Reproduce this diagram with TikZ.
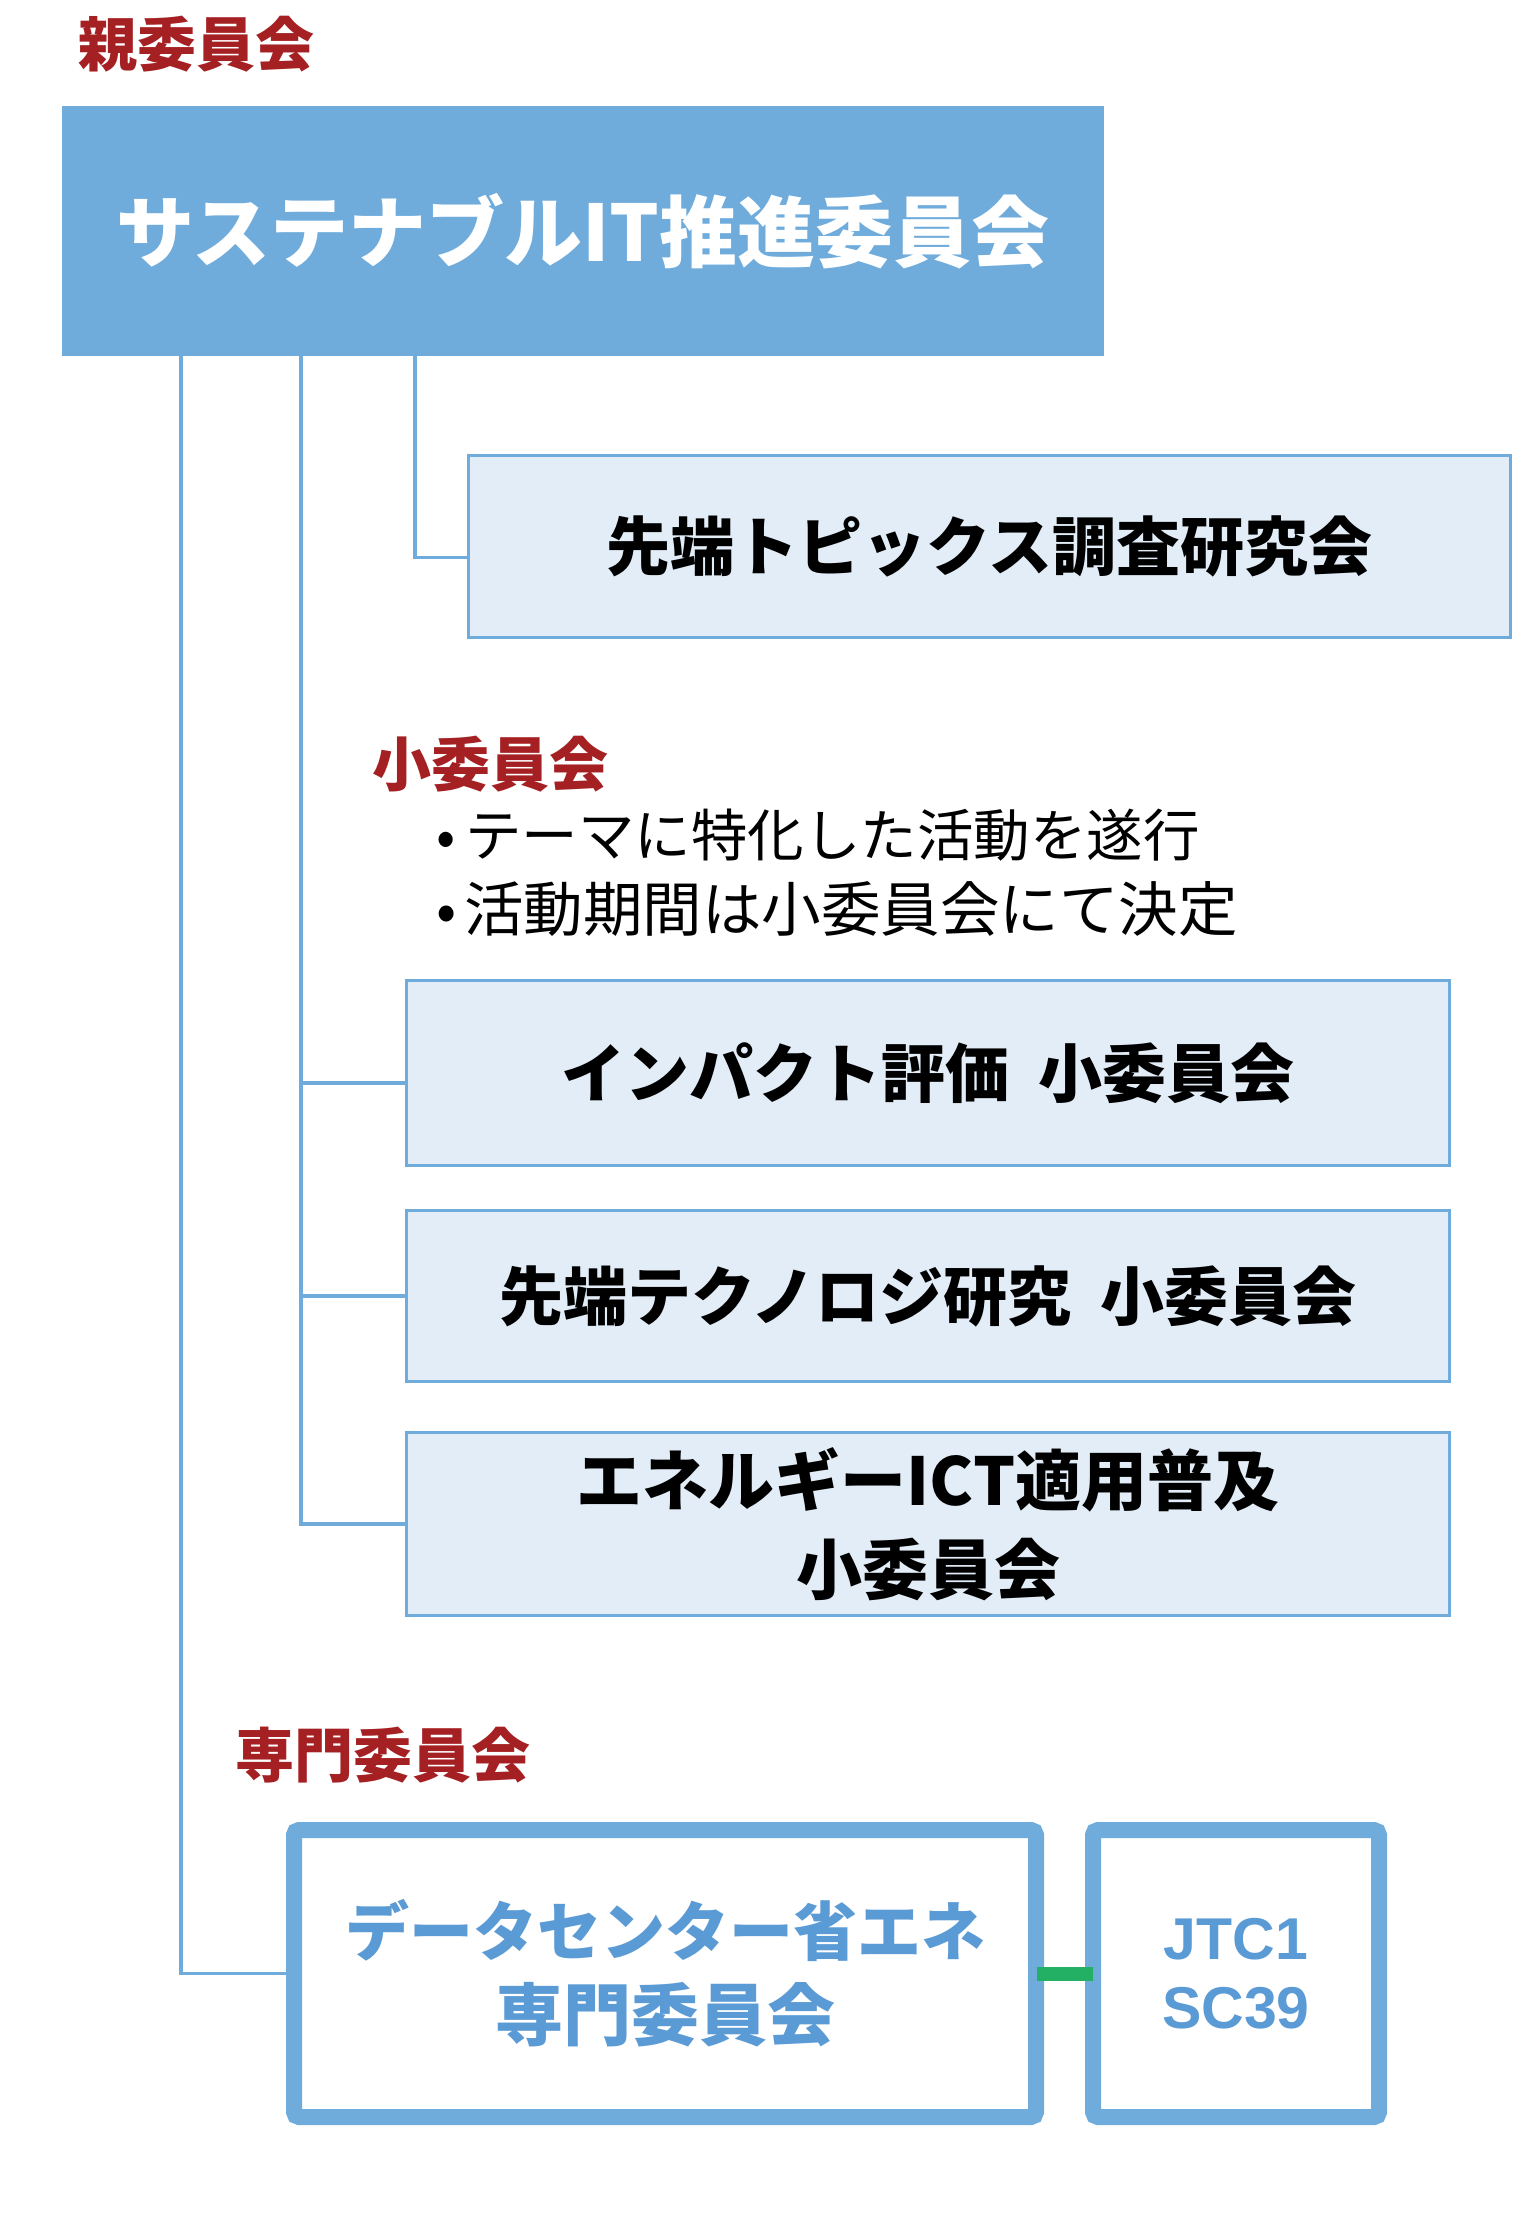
\documentclass[tikz,border=0pt]{standalone}
\usepackage{fontspec}
\setmainfont{Noto Sans CJK JP}
\newfontfamily\latfont{Liberation Sans}
\definecolor{mainblue}{RGB}{111,172,220}
\definecolor{lightfill}{RGB}{226,237,247}
\definecolor{textblue}{RGB}{91,155,213}
\definecolor{darkred}{RGB}{165,32,34}
\definecolor{linkgreen}{RGB}{35,176,100}
\tikzset{
  conn/.style={draw=mainblue, line width=3.5pt},
  mainbox/.style={fill=mainblue, draw=none, text=white, inner sep=0pt,
    font=\bfseries\fontsize{78}{90}\selectfont},
  subbox/.style={fill=lightfill, draw=mainblue, line width=3pt, inner sep=0pt,
    align=center, font=\bfseries\fontsize{64}{89}\selectfont},
  thickbox/.style={fill=white, draw=mainblue, line width=16pt, rounded corners=5pt,
    inner sep=0pt, text=textblue, align=center},
  redlabel/.style={text=darkred, inner sep=0pt, font=\bfseries\fontsize{59}{70}\selectfont},
  bulletline/.style={anchor=west, inner sep=0pt},
  greenlink/.style={draw=linkgreen, line width=14pt, shorten <=-7pt, shorten >=-8pt},
}
\begin{document}
\begin{tikzpicture}[x=1pt,y=-1pt]
\path[use as bounding box, fill=white] (0,0) rectangle (1530,2218);

% labels
\node[redlabel] (lblparent) at (196,44) {親委員会};
\node[redlabel] (lblsub) at (490,764) {小委員会};
\node[redlabel] (lblexpert) at (383,1755) {専門委員会};
\node[bulletline, font=\fontsize{56.5}{70}\selectfont] (b1) at (436,835) {•\hspace{10pt}テーマに特化した活動を遂行};
\node[bulletline, font=\fontsize{59.5}{70}\selectfont] (b2) at (436,909) {•\hspace{8pt}活動期間は小委員会にて決定};

% main box
\node[mainbox, minimum width=1042pt, minimum height=250pt] (main) at (583,231) {サステナブルIT推進委員会};

% sub boxes
\node[subbox, minimum width=1042pt, minimum height=182pt] (top) at (989.5,546.5) {先端トピックス調査研究会};
\node[subbox, minimum width=1043pt, minimum height=185pt] (imp) at (928,1073) {インパクト評価\hspace{0.45em}小委員会};
\node[subbox, minimum width=1043pt, minimum height=171pt] (tech) at (928,1296) {先端テクノロジ研究\hspace{0.45em}小委員会};
\node[subbox, minimum width=1043pt, minimum height=183pt,
  font=\bfseries\fontsize{66}{89}\selectfont] (ene) at (928,1524) {エネルギーICT適用普及\\小委員会};

% thick boxes
\node[thickbox, minimum width=742pt, minimum height=287pt,
  font=\bfseries\fontsize{64}{85}\selectfont] (dc) at (665,1973.5) {データセンター省エネ\\{\fontsize{68}{85}\selectfont 専門委員会}};
\node[thickbox, minimum width=286pt, minimum height=287pt,
  font=\latfont\bfseries\fontsize{59}{69}\selectfont] (jtc) at (1236,1973.5) {JTC1\\SC39};

% connectors
\coordinate (A) at ([xshift=119pt]main.south west);
\coordinate (B) at ([xshift=239pt]main.south west);
\coordinate (C) at ([xshift=353pt]main.south west);
\draw[conn] (A) |- (dc.west);
\draw[conn] (B) |- (ene.west);
\draw[conn] ([yshift=-10pt]imp.west -| B) -- ([yshift=-10pt]imp.west);
\draw[conn] (tech.west -| B) -- (tech.west);
\draw[conn] (C) |- ([yshift=-11pt]top.west);
\draw[greenlink] (dc.east) -- (jtc.west);
\end{tikzpicture}
\end{document}
